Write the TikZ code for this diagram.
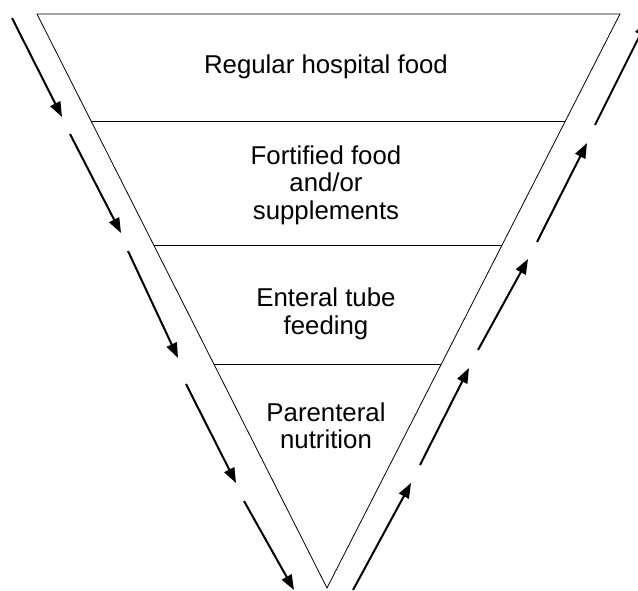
\documentclass[tikz,border=0pt]{standalone}
\usepackage{fontspec}
\setmainfont{Liberation Sans}
\usetikzlibrary{calc,arrows.meta}
\tikzset{
  level/.style={align=center,font=\fontsize{25.8}{27.5}\selectfont},
  flow/.style={line width=2pt,-{Triangle[length=15pt,width=11pt]}}
}
\begin{document}
\begin{tikzpicture}[x=1pt,y=-1pt]
\useasboundingbox (0,0) rectangle (638,591);
\clip (0,0) rectangle (638,591);
\coordinate (tl) at (37,14);
\coordinate (tr) at (620,14);
\coordinate (ap) at (327,588);
\draw[line width=0.8pt] (tl)--(tr)--(ap)--cycle;
\draw[line width=0.9pt] ($(tl)!0.188!(ap)$)--($(tr)!0.188!(ap)$);
\draw[line width=0.9pt] ($(tl)!0.404!(ap)$)--($(tr)!0.404!(ap)$);
\draw[line width=0.9pt] ($(tl)!0.610!(ap)$)--($(tr)!0.610!(ap)$);
\node[level] (regular) at (326,67) {Regular hospital food};
\node[level] (fortified) at (326,185) {Fortified food\\and/or\\supplements};
\node[level] (enteral) at (326,314) {Enteral tube\\feeding};
\node[level] (parenteral) at (326,426) {Parenteral\\nutrition};
% going down on the left
\coordinate (ds1) at (12,18);   \coordinate (de1) at (62,117);
\coordinate (ds2) at (70,134);  \coordinate (de2) at (121,233);
\coordinate (ds3) at (128,251); \coordinate (de3) at (178,358);
\coordinate (ds4) at (186,384); \coordinate (de4) at (236,483);
\coordinate (ds5) at (244,501); \coordinate (de5) at (294,590);
\foreach \i in {1,...,5} \draw[flow] (ds\i)--(de\i);
% going up on the right
\coordinate (us1) at (353,590); \coordinate (ue1) at (411,483);
\coordinate (us2) at (420,465); \coordinate (ue2) at (469,368);
\coordinate (us3) at (478,350); \coordinate (ue3) at (528,259);
\coordinate (us4) at (537,242); \coordinate (ue4) at (587,143);
\coordinate (us5) at (595,125); \coordinate (ue5) at (647,21);
\foreach \i in {1,...,5} \draw[flow] (us\i)--(ue\i);
\end{tikzpicture}
\end{document}
